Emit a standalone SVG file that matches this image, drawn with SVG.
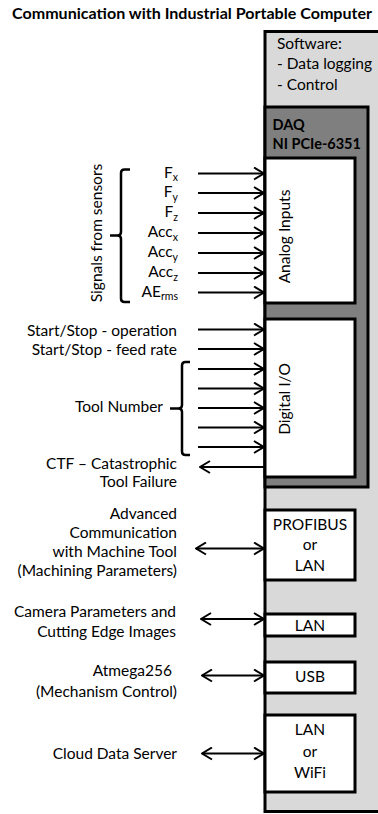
<svg xmlns="http://www.w3.org/2000/svg" width="378" height="814" viewBox="0 0 378 814">
  <style>
    .t { font-family: Lato, "Open Sans", sans-serif; font-size: 15.5px; fill: #000; }
    .b { font-family: Lato, "Open Sans", sans-serif; font-size: 14.5px; font-weight: bold; fill: #000; }
    .end { text-anchor: end; }
    .mid { text-anchor: middle; }
    .sub { font-size: 10.5px; }
    .box { fill: #fff; stroke: #000; stroke-width: 3; }
    .wire { stroke: #000; stroke-width: 2; fill: none; }
    .brace { stroke: #000; stroke-width: 2.5; fill: none; }
  </style>
  <defs>
    <marker id="head" viewBox="0 0 12 14" refX="11" refY="7" markerWidth="12" markerHeight="14" markerUnits="userSpaceOnUse" orient="auto-start-reverse">
      <path d="M1,1 L11,7 L1,13" fill="none" stroke="#000" stroke-width="2"/>
    </marker>
  </defs>

  <rect width="378" height="814" fill="#fff"/>

  <!-- title -->
  <text class="b" x="12" y="19" style="font-size:15px" textLength="360" lengthAdjust="spacingAndGlyphs">Communication with Industrial Portable Computer</text>

  <!-- industrial computer enclosure -->
  <g id="computer">
    <rect x="265" y="31.5" width="130" height="780" fill="#d9d9d9" stroke="#000" stroke-width="3"/>
    <text class="t" x="277" y="48.5">Software:</text>
    <text class="t" x="277" y="69">- Data logging</text>
    <text class="t" x="277" y="90">- Control</text>
  </g>

  <!-- DAQ card -->
  <g id="daq">
    <rect x="265" y="107" width="103" height="380" fill="#7f7f7f" stroke="#000" stroke-width="3"/>
    <text class="b" x="272.5" y="130">DAQ</text>
    <text class="b" x="272.5" y="149">NI PCIe-6351</text>
  </g>

  <g id="analog-inputs">
    <rect class="box" x="265" y="158" width="90" height="145"/>
    <text class="t mid" transform="translate(289.5,236.5) rotate(-90)">Analog Inputs</text>
  </g>

  <g id="digital-io">
    <rect class="box" x="265" y="319" width="90" height="158"/>
    <text class="t mid" transform="translate(289.5,399) rotate(-90)">Digital I/O</text>
  </g>

  <g id="profibus">
    <rect class="box" x="265" y="510" width="90" height="70"/>
    <text class="t mid" x="310" y="529.5">PROFIBUS</text>
    <text class="t mid" x="310" y="549.5">or</text>
    <text class="t mid" x="310" y="571">LAN</text>
  </g>

  <g id="lan-camera">
    <rect class="box" x="265" y="614" width="90" height="22"/>
    <text class="t mid" x="310" y="630.5">LAN</text>
  </g>

  <g id="usb">
    <rect class="box" x="265" y="662" width="90" height="31"/>
    <text class="t mid" x="310" y="682">USB</text>
  </g>

  <g id="lan-wifi">
    <rect class="box" x="265" y="715" width="90" height="77"/>
    <text class="t mid" x="310" y="735">LAN</text>
    <text class="t mid" x="310" y="756.5">or</text>
    <text class="t mid" x="310" y="778">WiFi</text>
  </g>

  <!-- sensor signals -->
  <g id="sensor-signals">
    <text class="t mid" transform="translate(101.5,233) rotate(-90)">Signals from sensors</text>
    <path class="brace" d="M130,169.5 H124.5 Q121,169.5 121,173 V232 Q121,235.5 117.5,235.5 H110 M117.5,235.5 Q121,235.5 121,239 V298.5 Q121,302 124.5,302 H130"/>
    <text class="t end" x="178" y="177.5">F<tspan class="sub" dy="3.5">x</tspan></text>
    <text class="t end" x="178" y="197">F<tspan class="sub" dy="3.5">y</tspan></text>
    <text class="t end" x="178" y="217">F<tspan class="sub" dy="3.5">z</tspan></text>
    <text class="t end" x="178" y="237">Acc<tspan class="sub" dy="3.5">x</tspan></text>
    <text class="t end" x="178" y="257">Acc<tspan class="sub" dy="3.5">y</tspan></text>
    <text class="t end" x="178" y="277">Acc<tspan class="sub" dy="3.5">z</tspan></text>
    <text class="t end" x="178" y="296.5">AE<tspan class="sub" dy="3.5">rms</tspan></text>
  </g>

  <!-- digital signals -->
  <g id="digital-signals">
    <text class="t end" x="177" y="336">Start/Stop - operation</text>
    <text class="t end" x="177" y="355">Start/Stop - feed rate</text>
    <text class="t end" x="163" y="412">Tool Number</text>
    <path class="brace" d="M190,362 H185.5 Q182,362 182,365.5 V405 Q182,408.5 178.5,408.5 H170 M178.5,408.5 Q182,408.5 182,412 V451.5 Q182,455 185.5,455 H190"/>
    <text class="t end" x="177" y="468.5">CTF – Catastrophic</text>
    <text class="t end" x="177" y="487">Tool Failure</text>
  </g>

  <!-- communication partners -->
  <g id="machine-tool">
    <text class="t end" x="177" y="518.5">Advanced</text>
    <text class="t end" x="177" y="537.5">Communication</text>
    <text class="t end" x="177" y="557">with Machine Tool</text>
    <text class="t end" x="177" y="576">(Machining Parameters)</text>
  </g>
  <g id="camera">
    <text class="t end" x="176" y="617">Camera Parameters and</text>
    <text class="t end" x="176" y="637">Cutting Edge Images</text>
  </g>
  <g id="atmega">
    <text class="t end" x="172" y="676">Atmega256</text>
    <text class="t end" x="177" y="696.5">(Mechanism Control)</text>
  </g>
  <g id="cloud">
    <text class="t end" x="177" y="758.5">Cloud Data Server</text>
  </g>

  <!-- connectors -->
  <g id="connectors" class="wire">
    <line x1="198" y1="173.5" x2="264" y2="173.5" marker-end="url(#head)"/>
    <line x1="198" y1="193" x2="264" y2="193" marker-end="url(#head)"/>
    <line x1="198" y1="213" x2="264" y2="213" marker-end="url(#head)"/>
    <line x1="198" y1="233" x2="264" y2="233" marker-end="url(#head)"/>
    <line x1="198" y1="253" x2="264" y2="253" marker-end="url(#head)"/>
    <line x1="198" y1="273" x2="264" y2="273" marker-end="url(#head)"/>
    <line x1="198" y1="292.5" x2="264" y2="292.5" marker-end="url(#head)"/>

    <line x1="198" y1="329.5" x2="264" y2="329.5" marker-end="url(#head)"/>
    <line x1="198" y1="349" x2="264" y2="349" marker-end="url(#head)"/>
    <line x1="198" y1="369" x2="264" y2="369" marker-end="url(#head)"/>
    <line x1="198" y1="388.5" x2="264" y2="388.5" marker-end="url(#head)"/>
    <line x1="198" y1="408" x2="264" y2="408" marker-end="url(#head)"/>
    <line x1="198" y1="427.5" x2="264" y2="427.5" marker-end="url(#head)"/>
    <line x1="198" y1="447" x2="264" y2="447" marker-end="url(#head)"/>
    <line x1="265" y1="467" x2="200" y2="467" marker-end="url(#head)"/>

    <line x1="196" y1="548.5" x2="264" y2="548.5" marker-start="url(#head)" marker-end="url(#head)"/>
    <line x1="201" y1="619" x2="264" y2="619" marker-start="url(#head)" marker-end="url(#head)"/>
    <line x1="202" y1="675.5" x2="264" y2="675.5" marker-start="url(#head)" marker-end="url(#head)"/>
    <line x1="202" y1="753.5" x2="264" y2="753.5" marker-start="url(#head)" marker-end="url(#head)"/>
  </g>
</svg>
